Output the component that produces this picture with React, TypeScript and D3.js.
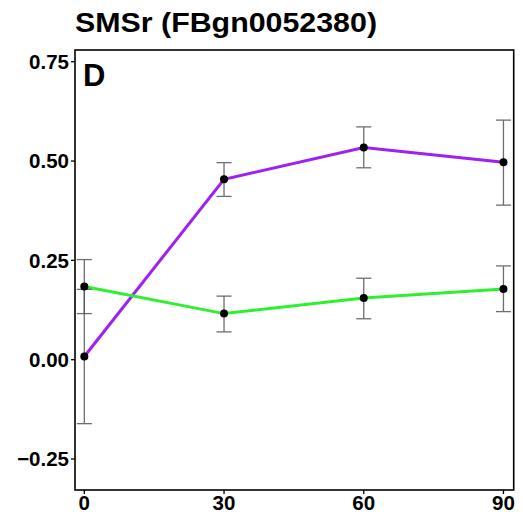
import React from "react";
import * as d3 from "d3";

const timePoints = [0, 30, 60, 90];
const purpleMean = [0.008, 0.454, 0.534, 0.497];
const purpleLow = [-0.161, 0.411, 0.483, 0.389];
const purpleHigh = [0.177, 0.496, 0.586, 0.603];
const greenMean = [0.184, 0.116, 0.155, 0.178];
const greenLow = [0.116, 0.07, 0.103, 0.121];
const greenHigh = [0.252, 0.16, 0.205, 0.236];
const yTicks = [-0.25, 0, 0.25, 0.5, 0.75];
const xTicks = [0, 30, 60, 90];
const titleText = "SMSr (FBgn0052380)";
const panelLabel = "D";

const W = 523;
const H = 519;
const left = 75;
const right = 513.7;
const top = 50;
const bottom = 490;

export default function App() {
  const x = d3.scaleLinear().domain([-2.0, 92.2]).range([left, right]);
  const y = d3.scaleLinear().domain([-0.328, 0.7795]).range([bottom, top]);
  const line = d3
    .line<[number, number]>()
    .x((d) => x(d[0]))
    .y((d) => y(d[1]));
  const font = "'Liberation Sans', Arial, sans-serif";
  const series = [
    { mean: purpleMean, low: purpleLow, high: purpleHigh, color: "#A020F0" },
    { mean: greenMean, low: greenLow, high: greenHigh, color: "#2EF02E" },
  ];
  const capHalf = 7.5;
  return (
    <svg
      width={W}
      height={H}
      style={{ position: "absolute", left: 0, top: 0, background: "#fff" }}
      fontFamily={font}
    >
      <rect x={0} y={0} width={W} height={H} fill="#fff" />
      <text
        x={75}
        y={32}
        fontSize={28.5}
        fontWeight="bold"
        fill="#000"
        textLength={302}
        lengthAdjust="spacingAndGlyphs"
      >
        {titleText}
      </text>
      {/* lines */}
      {series.map((s, i) => (
        <path
          key={"l" + i}
          d={line(timePoints.map((t, j) => [t, s.mean[j]]) as [number, number][]) || ""}
          fill="none"
          stroke={s.color}
          strokeWidth={3}
        />
      ))}
      {/* error bars */}
      {series.map((s, i) =>
        timePoints.map((t, j) => (
          <g key={"e" + i + "-" + j} stroke="#555" strokeWidth={1.3} opacity={0.85}>
            <line x1={x(t)} x2={x(t)} y1={y(s.low[j])} y2={y(s.high[j])} />
            <line x1={x(t) - capHalf} x2={x(t) + capHalf} y1={y(s.low[j])} y2={y(s.low[j])} />
            <line x1={x(t) - capHalf} x2={x(t) + capHalf} y1={y(s.high[j])} y2={y(s.high[j])} />
          </g>
        ))
      )}
      {/* points */}
      {series.map((s, i) =>
        timePoints.map((t, j) => (
          <circle key={"p" + i + "-" + j} cx={x(t)} cy={y(s.mean[j])} r={4} fill="#000" />
        ))
      )}
      {/* panel border */}
      <rect
        x={left}
        y={top}
        width={right - left}
        height={bottom - top}
        fill="none"
        stroke="#000"
        strokeWidth={1.6}
      />
      <text x={83} y={86} fontSize={31} fontWeight="bold" fill="#000">
        {panelLabel}
      </text>
      {/* y axis */}
      {yTicks.map((v) => (
        <g key={"y" + v}>
          <line x1={left - 4} x2={left} y1={y(v)} y2={y(v)} stroke="#000" strokeWidth={1.3} />
          <text
            x={left - 6}
            y={y(v)}
            dy="0.36em"
            textAnchor="end"
            fontSize={20.5}
            fontWeight="bold"
            fill="#000"
          >
            {v < 0 ? "\u2212" + Math.abs(v).toFixed(2) : v.toFixed(2)}
          </text>
        </g>
      ))}
      {/* x axis */}
      {xTicks.map((v) => (
        <g key={"x" + v}>
          <line x1={x(v)} x2={x(v)} y1={bottom} y2={bottom + 4} stroke="#000" strokeWidth={1.3} />
          <text
            x={x(v)}
            y={510}
            textAnchor="middle"
            fontSize={20.5}
            fontWeight="bold"
            fill="#000"
          >
            {v}
          </text>
        </g>
      ))}
    </svg>
  );
}
